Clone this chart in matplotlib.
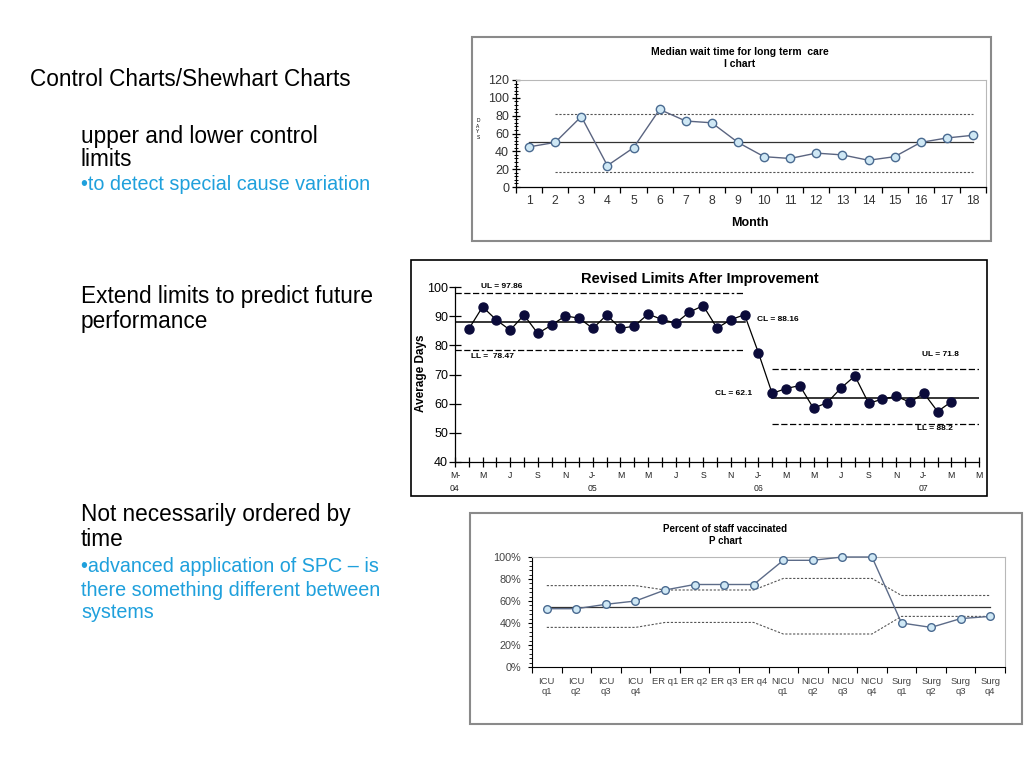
import matplotlib
matplotlib.use('Agg')
import matplotlib.pyplot as plt
from matplotlib.patches import Rectangle
from matplotlib.ticker import MultipleLocator, FuncFormatter

plt.rcParams['font.family'] = ['Liberation Sans', 'DejaVu Sans']

# ---- data ----
# I chart: median wait time for long term care
months = list(range(1, 19))
wait_days = [45, 50, 79, 24, 44, 87, 74, 72, 50, 34, 32, 38, 36, 30, 34, 50, 55, 58]
wait_cl = 50
wait_ucl = 82
wait_lcl = 17

# revised limits chart (month index 0 = Mar-04)
month_idx = list(range(1, 37))
avg_days = [85.6, 93.2, 88.7, 85.2, 90.4, 84.1, 86.9, 90.1, 89.3, 85.8,
            90.4, 85.8, 86.6, 90.7, 88.9, 87.6, 91.4, 93.6, 85.9, 88.8,
            90.5, 77.5, 63.5, 65.2, 66.2, 58.4, 60.4, 65.4, 69.5, 60.1,
            61.6, 62.5, 60.5, 63.6, 57.3, 60.7]
phase_start = [0, 23]
phase_end = [21, 38]
phase_ul = [97.86, 71.8]
phase_cl = [88.16, 62.1]
phase_ll = [78.47, 52.9]
month_ticklabels = ['M-\n04', 'M', 'J', 'S', 'N', 'J-\n05', 'M', 'M', 'J', 'S', 'N',
                    'J-\n06', 'M', 'M', 'J', 'S', 'N', 'J-\n07', 'M', 'M']

# P chart: percent of staff vaccinated
units = ['ICU\nq1', 'ICU\nq2', 'ICU\nq3', 'ICU\nq4', 'ER q1', 'ER q2', 'ER q3', 'ER q4',
         'NICU\nq1', 'NICU\nq2', 'NICU\nq3', 'NICU\nq4', 'Surg\nq1', 'Surg\nq2', 'Surg\nq3', 'Surg\nq4']
pct_vacc = [53, 53, 57, 60, 70, 75, 75, 75, 97, 97, 100, 100, 40, 36, 44, 46]
p_cl = 55
p_ucl = [74, 74, 74, 74, 70, 70, 70, 70, 80.5, 80.5, 80.5, 80.5, 65, 65, 65, 65]
p_lcl = [36, 36, 36, 36, 40.5, 40.5, 40.5, 40.5, 30, 30, 30, 30, 46, 46, 46, 46]

W, H = 1024, 768
BLUE = '#1fa0dc'


def box(x0, y0, x1, y1):
    return [x0 / W, 1 - y1 / H, (x1 - x0) / W, (y1 - y0) / H]


def frame(x0, y0, x1, y1, color, lw):
    fig.patches.append(Rectangle((x0 / W, 1 - y1 / H), (x1 - x0) / W, (y1 - y0) / H,
                                 transform=fig.transFigure, fill=False,
                                 edgecolor=color, lw=lw))


fig = plt.figure(figsize=(W / 100, H / 100), dpi=100)

# ---- left side text ----
fig.text(30 / W, 1 - 80 / H, 'Control Charts/Shewhart Charts', fontsize=16.3, va='center')
lines = [
    ('upper and lower control', 136, 'black', 16.3),
    ('limits', 160, 'black', 16.3),
    ('\u2022to detect special cause variation', 185, BLUE, 14.2),
    ('Extend limits to predict future', 296, 'black', 16.3),
    ('performance', 322, 'black', 16.3),
    ('Not necessarily ordered by', 515, 'black', 16.3),
    ('time', 540, 'black', 16.3),
    ('\u2022advanced application of SPC \u2013 is', 566, BLUE, 14.2),
    ('there something different between', 590, BLUE, 14.2),
    ('systems', 613, BLUE, 14.2),
]
for txt, y, c, fs in lines:
    fig.text(81 / W, 1 - y / H, txt, fontsize=fs, color=c, va='center')

# ---- chart 1: I chart ----
frame(472, 37, 991, 241, '#8a8a8a', 1.5)
ax1 = fig.add_axes(box(516, 80, 986, 187))
ax1.plot([1, 18], [wait_cl, wait_cl], color='#333333', lw=0.9, zorder=2)
ax1.plot([2, 18], [wait_ucl, wait_ucl], color='#555555', lw=0.8, ls=(0, (2, 1.5)), zorder=2)
ax1.plot([2, 18], [wait_lcl, wait_lcl], color='#555555', lw=0.8, ls=(0, (2, 1.5)), zorder=2)
ax1.plot(months, wait_days, color='#5a6480', lw=1, marker='o', ms=6,
         mfc='#cfe8f5', mec='#4a6a90', mew=1, zorder=3)
ax1.set_xlim(0.5, 18.5)
ax1.set_ylim(0, 120)
ax1.set_yticks(range(0, 121, 20))
ax1.yaxis.set_minor_locator(MultipleLocator(4))
ax1.set_xticks([i + 0.5 for i in range(19)])
ax1.set_xticklabels([])
ax1.set_xticks(months, minor=True)
ax1.set_xticklabels([str(m) for m in months], minor=True)
ax1.tick_params(axis='x', which='major', direction='out', length=4, width=0.9)
ax1.tick_params(axis='x', which='minor', length=0, pad=6, labelsize=8.8, labelcolor='#333333')
ax1.tick_params(axis='y', which='major', direction='inout', length=6, width=0.9,
                labelsize=9, labelcolor='#333333', pad=2)
ax1.tick_params(axis='y', which='minor', direction='inout', length=3, width=0.7)
for s in ['top', 'right']:
    ax1.spines[s].set_color('#b8b8b8')
for s in ['left', 'bottom']:
    ax1.spines[s].set_linewidth(0.9)
fig.text(740 / W, 1 - 52 / H, 'Median wait time for long term  care', fontsize=7.5,
         fontweight='bold', ha='center', va='center')
fig.text(740 / W, 1 - 64 / H, 'I chart', fontsize=7.5, fontweight='bold', ha='center', va='center')
fig.text(750 / W, 1 - 223 / H, 'Month', fontsize=9, fontweight='bold', ha='center', va='center')
fig.text(478 / W, 1 - 129 / H, 'D\nA\nY\nS', fontsize=3.5, ha='center', va='center',
         linespacing=1.1)

# ---- chart 2: revised limits ----
frame(411, 260, 987, 496, 'black', 1.2)
ax2 = fig.add_axes(box(455, 287, 979, 462))
dash = (0, (5, 2, 5, 2, 5, 2, 2, 2))
for x0, x1, ul, cl, ll in zip(phase_start, phase_end, phase_ul, phase_cl, phase_ll):
    ax2.plot([x0, x1], [ul, ul], color='black', lw=0.9, ls=dash)
    ax2.plot([x0, x1], [ll, ll], color='black', lw=0.9, ls=dash)
    ax2.plot([x0, x1], [cl, cl], color='black', lw=1.1)
ax2.plot(month_idx, avg_days, color='black', lw=0.9, marker='o', ms=6.5,
         mfc='#0b0b3a', mec='#0b0b3a', zorder=3, clip_on=False)
ax2.set_xlim(0, 38)
ax2.set_ylim(40, 100)
ax2.set_yticks(range(40, 101, 10))
ax2.set_xticks(range(0, 39, 2))
ax2.set_xticklabels(month_ticklabels)
ax2.xaxis.set_minor_locator(MultipleLocator(1))
ax2.tick_params(axis='x', which='both', direction='inout', length=7, width=0.9,
                labelsize=6.3, pad=3, labelcolor='#222222')
ax2.tick_params(axis='y', direction='inout', length=8, width=0.9, labelsize=9, pad=1)
for lab in ax2.get_xticklabels():
    lab.set_horizontalalignment('center')
    lab.set_verticalalignment('top')
    lab.set_linespacing(1.55)
for s in ['top', 'right']:
    ax2.spines[s].set_visible(False)
for s in ['left', 'bottom']:
    ax2.spines[s].set_linewidth(0.9)
lbl = dict(fontsize=6, fontweight='bold', ha='center', va='center')
ax2.text(3.35, 100.1, 'UL = 97.86', **lbl)
ax2.text(2.7, 76.3, 'LL =  78.47', **lbl)
ax2.text(23.4, 88.7, 'CL = 88.16', **lbl)
ax2.text(35.2, 76.7, 'UL = 71.8', **lbl)
ax2.text(20.2, 63.6, 'CL = 62.1', **lbl)
ax2.text(34.8, 51.5, 'LL = 88.2', **lbl)
fig.text(700 / W, 1 - 279 / H, 'Revised Limits After Improvement', fontsize=10.5,
         fontweight='bold', ha='center', va='center')
fig.text(421 / W, 1 - 373 / H, 'Average Days', fontsize=8.5, fontweight='bold',
         rotation=90, ha='center', va='center')

# ---- chart 3: P chart ----
frame(470, 513, 1022, 724, '#8a8a8a', 1.5)
ax3 = fig.add_axes(box(532, 557, 1005, 667))
xs = list(range(len(units)))
ax3.plot(xs, [p_cl] * len(xs), color='#333333', lw=0.9, zorder=2)
ax3.plot(xs, p_ucl, color='#555555', lw=0.8, ls=(0, (2, 1.5)), zorder=2)
ax3.plot(xs, p_lcl, color='#555555', lw=0.8, ls=(0, (2, 1.5)), zorder=2)
ax3.plot(xs, pct_vacc, color='#5c6b88', lw=1, marker='o', ms=5.5,
         mfc='#cfe8f5', mec='#4a6a90', mew=1, zorder=3, clip_on=False)
ax3.set_xlim(-0.5, len(units) - 0.5)
ax3.set_ylim(0, 100)
ax3.set_yticks(range(0, 101, 20))
ax3.yaxis.set_major_formatter(FuncFormatter(lambda v, p: '%d%%' % v))
ax3.yaxis.set_minor_locator(MultipleLocator(4))
ax3.set_xticks([i - 0.5 for i in range(len(units) + 1)])
ax3.set_xticklabels([])
ax3.set_xticks(xs, minor=True)
ax3.set_xticklabels(units, minor=True)
ax3.tick_params(axis='x', which='major', direction='out', length=4, width=0.8)
ax3.tick_params(axis='x', which='minor', length=0, pad=7, labelsize=6.8, labelcolor='#444444')
ax3.tick_params(axis='y', which='major', direction='out', length=3, width=0.8,
                labelsize=7.8, labelcolor='#444444', pad=5)
ax3.tick_params(axis='y', which='minor', direction='out', length=2, width=0.6)
for s in ['top', 'right']:
    ax3.spines[s].set_color('#b8b8b8')
for s in ['left', 'bottom']:
    ax3.spines[s].set_linewidth(0.8)
fig.text(725 / W, 1 - 529 / H, 'Percent of staff vaccinated', fontsize=7,
         fontweight='bold', ha='center', va='center')
fig.text(725 / W, 1 - 541 / H, 'P chart', fontsize=7, fontweight='bold', ha='center', va='center')

fig.savefig('out.png', dpi=100, facecolor='white')
